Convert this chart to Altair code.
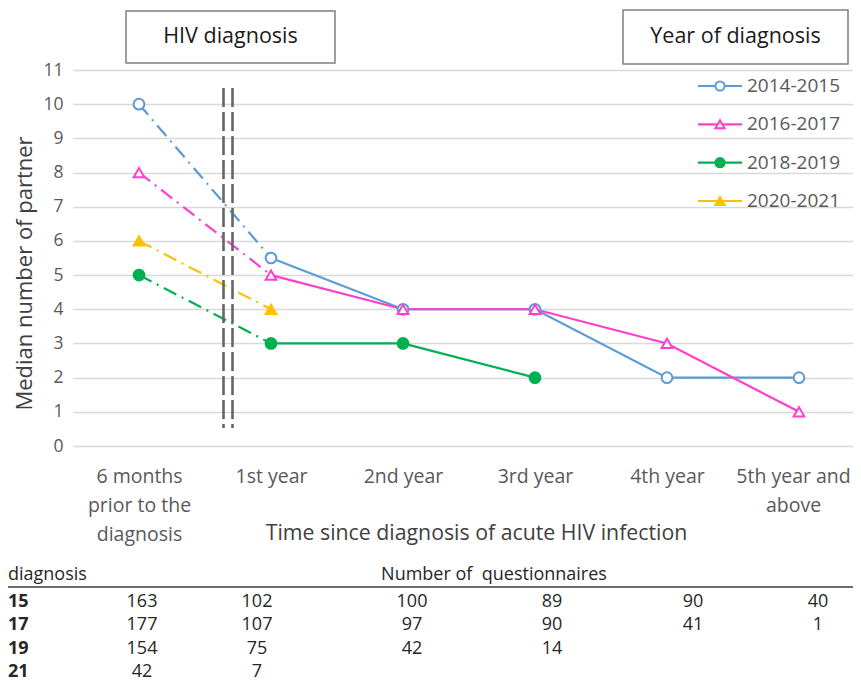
import altair as alt
import pandas as pd

FONT = "Open Sans"

# ---------------- data ----------------
categories = ["6 months prior to the diagnosis", "1st year", "2nd year",
              "3rd year", "4th year", "5th year and above"]
x_label_lines = [["6 months", "prior to the", "diagnosis"], ["1st year"], ["2nd year"],
                 ["3rd year"], ["4th year"], ["5th year and", "above"]]
series = ["2014-2015", "2016-2017", "2018-2019", "2020-2021"]
vals_2014 = [10, 5.5, 4, 4, 2, 2]
vals_2016 = [8, 5, 4, 4, 3, 1]
vals_2018 = [5, 3, 3, 2, None, None]
vals_2020 = [6, 4, None, None, None, None]

colors = ["#5B9BD5", "#FF3FCB", "#00B050", "#FFC000"]
fills = ["white", "white", "#00B050", "#FFC000"]
shapes = ["circle", "triangle-up", "circle", "triangle-up"]

row_labels = ["15", "17", "19", "21"]
q_2014 = [163, 102, 100, 89, 90, 40]
q_2016 = [177, 107, 97, 90, 41, 1]
q_2018 = [154, 75, 42, 14]
q_2020 = [42, 7]

all_vals = [vals_2014, vals_2016, vals_2018, vals_2020]
rows = []
for s, v in zip(series, all_vals):
    for i, y in enumerate(v):
        if y is not None:
            rows.append({"series": s, "idx": i, "cat": categories[i], "value": y})
df = pd.DataFrame(rows)
df_solid = df[df.idx >= 1]
df_dash = df[df.idx <= 1]

trows = []
for r, q in enumerate([q_2014, q_2016, q_2018, q_2020]):
    for c, n in enumerate(q):
        trows.append({"row": r, "col": c, "n": str(n)})
tdf = pd.DataFrame(trows)
ldf = pd.DataFrame({"series": series})
rldf = pd.DataFrame({"row": list(range(len(row_labels))), "label": row_labels})
one = pd.DataFrame({"a": [0]})

# ---------------- scales ----------------
W, H = 780, 376
xs = alt.Scale(domain=[-0.5, 5.409], nice=False, zero=False)
ys = alt.Scale(domain=[0, 11], nice=False)
col_scale = alt.Scale(domain=series, range=colors)
fill_scale = alt.Scale(domain=series, range=fills)
shape_scale = alt.Scale(domain=series, range=shapes)

label_expr = "[" + ",".join("[" + ",".join("'" + t + "'" for t in l) + "]" for l in x_label_lines) + "][datum.value]"

x_enc = alt.X("idx:Q", scale=xs, axis=alt.Axis(
    values=list(range(6)), labelExpr=label_expr, grid=False, domain=False, ticks=False,
    tickSize=0, labelPadding=21, labelFont=FONT, labelFontSize=19.5, labelColor="#595959",
    labelLineHeight=29, labelBaseline="top", labelOverlap=False,
    labelOffset={"condition": {"test": "datum.value == 5", "value": -6}, "value": 0},
    title="Time since diagnosis of acute HIV infection", titleFont=FONT, titleFontSize=21.3,
    titleFontWeight="normal", titleColor="#404040", titleX=403, titleY=87,
    titleBaseline="middle", titleAlign="center"))
y_enc = alt.Y("value:Q", scale=ys, axis=alt.Axis(
    values=list(range(12)), grid=True, gridColor="#D9D9D9", gridWidth=1.3, domain=False,
    ticks=False, labelPadding=10, labelFont=FONT, labelFontSize=17.5, labelColor="#595959",
    title="Median number of partner", titleFont=FONT, titleFontSize=22,
    titleFontWeight="normal", titleColor="#404040", titleX=-49, titleY=203,
    titleAngle=270, titleAlign="center", titleBaseline="middle"))

dash_lines = alt.Chart(df_dash).mark_line(strokeWidth=2.2, strokeDash=[14, 6, 2, 6]).encode(
    x=x_enc, y=y_enc,
    color=alt.Color("series:N", scale=col_scale, legend=None), detail="series:N")
solid_lines = alt.Chart(df_solid).mark_line(strokeWidth=2.2).encode(
    x=x_enc, y=y_enc,
    color=alt.Color("series:N", scale=col_scale, legend=None), detail="series:N")
points = alt.Chart(df).mark_point(size=115, strokeWidth=2, opacity=1, filled=False).encode(
    x=x_enc, y=y_enc,
    stroke=alt.Stroke("series:N", scale=col_scale, legend=None),
    fill=alt.Fill("series:N", scale=fill_scale, legend=None),
    shape=alt.Shape("series:N", scale=shape_scale, legend=None))

# vertical break lines
breaks = alt.layer(*[
    alt.Chart(one).mark_rule(color="#666666", strokeWidth=2.6, strokeDash=[19, 5]).encode(
        x=alt.value(xv), y=alt.value(18), y2=alt.value(358))
    for xv in (150.5, 159.5)])

# title boxes
def box(x1, x2, y1, y2, text):
    r = alt.Chart(one).mark_rect(fill="white", stroke="#7F7F7F", strokeWidth=1.5).encode(
        x=alt.value(x1), x2=alt.value(x2), y=alt.value(y1), y2=alt.value(y2))
    t = alt.Chart(one).mark_text(font=FONT, fontSize=21.5, color="#1A1A1A", align="center",
                                 baseline="middle").encode(
        x=alt.value((x1 + x2) / 2), y=alt.value((y1 + y2) / 2), text=alt.value(text))
    return r + t

boxes = box(53, 262, -59, -7, "HIV diagnosis") + box(550, 775, -60, -6, "Year of diagnosis")

main = alt.layer(solid_lines, dash_lines, points, breaks, boxes)

# manual legend
ly = alt.Y("series:N", scale=alt.Scale(type="point", domain=series, range=[16, 131], padding=0), axis=None)
leg_rule = alt.Chart(ldf).mark_rule(strokeWidth=2.2).encode(
    x=alt.value(625), x2=alt.value(669), y=ly,
    color=alt.Color("series:N", scale=col_scale, legend=None))
leg_pt = alt.Chart(ldf).mark_point(size=85, strokeWidth=2, opacity=1).encode(
    x=alt.value(647), y=ly,
    stroke=alt.Stroke("series:N", scale=col_scale, legend=None),
    fill=alt.Fill("series:N", scale=fill_scale, legend=None),
    shape=alt.Shape("series:N", scale=shape_scale, legend=None))
leg_txt = alt.Chart(ldf).mark_text(font=FONT, fontSize=19, color="#595959", align="left",
                                   baseline="middle").encode(
    x=alt.value(674), y=ly, text="series:N")
legend = alt.layer(leg_rule, leg_pt, leg_txt)

# table
TROWS = [532, 602]
TFS = 18
tx = alt.X("col:Q", scale=alt.Scale(domain=[0, 1, 2, 3, 4, 5], range=[69, 184, 339, 479, 620, 745],
                                    nice=False, zero=False), axis=None)
ty = alt.Y("row:Q", scale=alt.Scale(domain=[0, 3], range=TROWS, nice=False, zero=False), axis=None)
cells = alt.Chart(tdf).mark_text(font=FONT, fontSize=TFS, color="#262626", align="center",
                                 baseline="middle").encode(x=tx, y=ty, text="n:N")
rlabels = alt.Chart(rldf).mark_text(font=FONT, fontSize=TFS, fontWeight="bold", color="#262626",
                                    align="left", baseline="middle").encode(
    x=alt.value(-65), y=alt.Y("row:Q", scale=alt.Scale(domain=[0, 3], range=TROWS, nice=False,
                                                        zero=False), axis=None), text="label:N")
hdr1 = alt.Chart(one).mark_text(font=FONT, fontSize=TFS, color="#262626", align="left",
                                baseline="middle").encode(
    x=alt.value(-65), y=alt.value(505), text=alt.value("diagnosis"))
hdr2 = alt.Chart(one).mark_text(font=FONT, fontSize=TFS, color="#262626", align="center",
                                baseline="middle").encode(
    x=alt.value(421), y=alt.value(505), text=alt.value("Number of\u00a0 questionnaires"))
hline = alt.Chart(one).mark_rule(color="#6E6E6E", strokeWidth=2).encode(
    x=alt.value(-65), x2=alt.value(W), y=alt.value(517))
table = alt.layer(cells, rlabels, hdr1, hdr2, hline)

chart = alt.layer(main, legend, table).resolve_scale(x="independent", y="independent").properties(
    width=W, height=H,
    autosize=alt.AutoSizeParams(type="none"),
    padding={"left": 65, "top": 62, "right": 0, "bottom": 240},
).configure_view(stroke=None)

chart.save("out.html", embed_options={"renderer": "svg", "actions": False})
